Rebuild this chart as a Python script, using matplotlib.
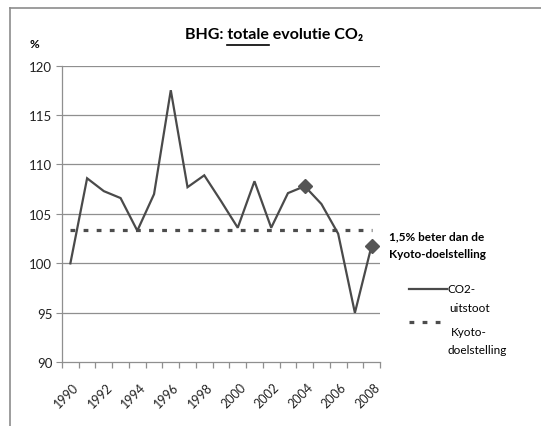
import matplotlib
matplotlib.use("Agg")
import matplotlib.pyplot as plt
from matplotlib.lines import Line2D
import numpy as np

years = list(range(1990, 2009))
co2 = [100.0, 108.6, 107.3, 106.6, 103.3, 107.0, 117.5, 107.7, 108.9, 106.3,
       103.6, 108.3, 103.6, 107.1, 107.8, 106.0, 103.0, 95.0, 101.8]
kyoto = [103.4] * len(years)
highlight_years = [2004, 2008]
yticks = [90, 95, 100, 105, 110, 115, 120]
xlabels = [str(y) for y in years[::2]]

W, H = 541, 427
plt.rcParams['font.family'] = ['Lato', 'DejaVu Sans']
fig = plt.figure(figsize=(W / 100, H / 100), dpi=100)

def fx(x):
    return x / W

def fy(y):
    return 1 - y / H

# outer chart frame
fig.add_artist(Line2D([fx(10), fx(10)], [fy(9), 0], color='#8c8c8c', lw=1.2))
fig.add_artist(Line2D([fx(10), 1], [fy(9), fy(9)], color='#8c8c8c', lw=1.2))

ax = fig.add_axes([fx(62), fy(363.3), fx(380) - fx(62), fy(66.5) - fy(363.3)])
idx = np.arange(len(years))
ax.set_xlim(-0.5, len(years) - 0.5)
ax.set_ylim(90, 120)

for v in yticks[1:]:
    ax.axhline(v, color='#8f8f8f', lw=0.9, zorder=1)

ax.plot(idx, kyoto, color='#4d4d4d', lw=2.3, linestyle=(0, (1.5, 2.6)),
        dash_capstyle='butt', zorder=2)
ax.plot(idx, co2, color='#4a4a4a', lw=1.6, zorder=3, solid_joinstyle='miter')
hi = [years.index(y) for y in highlight_years]
ax.plot(hi, [co2[i] for i in hi], linestyle='none', marker='D', markersize=7,
        color='#555555', zorder=4)

for s in ['top', 'right']:
    ax.spines[s].set_visible(False)
ax.spines['left'].set_color('#8f8f8f')
ax.spines['bottom'].set_color('#8f8f8f')
ax.spines['left'].set_linewidth(0.9)
ax.spines['bottom'].set_linewidth(0.9)

ax.set_yticks(yticks)
ax.set_yticklabels([str(v) for v in yticks], fontsize=9.5, color='#222222')
ax.tick_params(axis='y', length=4, color='#8f8f8f', pad=3)

ax.set_xticks(np.arange(-0.5, len(years), 1.0))
ax.set_xticklabels([''] * len(years + [0]))
ax.tick_params(axis='x', length=4, width=0.9, color='#8f8f8f')
for k, lab in zip(idx[::2], xlabels):
    ax.annotate(lab, xy=(k, 90), xycoords='data', xytext=(1.5, -13),
                textcoords='offset points', rotation=45, ha='right', va='top',
                fontsize=9, color='#222222', rotation_mode='anchor')

# y unit
fig.text(fx(34), fy(44), '%', fontsize=8.5, fontweight='bold', ha='center', va='center')

# title with underline on "totale"
title = 'BHG: totale evolutie CO\u2082'
tx, ty = fx(274), fy(35)
t = fig.text(tx, ty, title, fontsize=11.5, fontweight='bold', ha='center', va='center')
fig.canvas.draw()
r = fig.canvas.get_renderer()
bb = t.get_window_extent(r)
tmp1 = fig.text(0, 0, 'BHG:', fontsize=11.5, fontweight='bold')
tmp1b = fig.text(0, 0, 'BHG: t', fontsize=11.5, fontweight='bold')
tmp1c = fig.text(0, 0, 't', fontsize=11.5, fontweight='bold')
tmp2 = fig.text(0, 0, 'BHG: totale', fontsize=11.5, fontweight='bold')
w1 = tmp1b.get_window_extent(r).width - tmp1c.get_window_extent(r).width
w2 = tmp2.get_window_extent(r).width
for tt in (tmp1, tmp1b, tmp1c, tmp2):
    tt.remove()
x0 = (bb.x0 + w1) / W
x1 = (bb.x0 + w2) / W
fig.add_artist(Line2D([x0, x1], [fy(45.5), fy(45.5)], color='black', lw=1.2))

# annotation
fig.text(fx(389), fy(237), '1,5% beter dan de', fontsize=8.5, fontweight='bold', va='center')
fig.text(fx(389), fy(255), 'Kyoto-doelstelling', fontsize=8.5, fontweight='bold', va='center')

# legend
fig.add_artist(Line2D([fx(409), fx(447)], [fy(290), fy(290)], color='#4a4a4a', lw=1.6))
fig.text(fx(448), fy(290), 'CO2-', fontsize=8.5, va='center')
fig.text(fx(449), fy(308), 'uitstoot', fontsize=8.5, va='center')
fig.add_artist(Line2D([fx(409), fx(447)], [fy(323), fy(323)], color='#4d4d4d', lw=2.3,
                      linestyle=(0, (1.5, 2.6)), dash_capstyle='butt'))
fig.text(fx(451), fy(333), 'Kyoto-', fontsize=8.5, va='center')
fig.text(fx(448), fy(351), 'doelstelling', fontsize=8.5, va='center')

fig.savefig('out.png', dpi=100)
